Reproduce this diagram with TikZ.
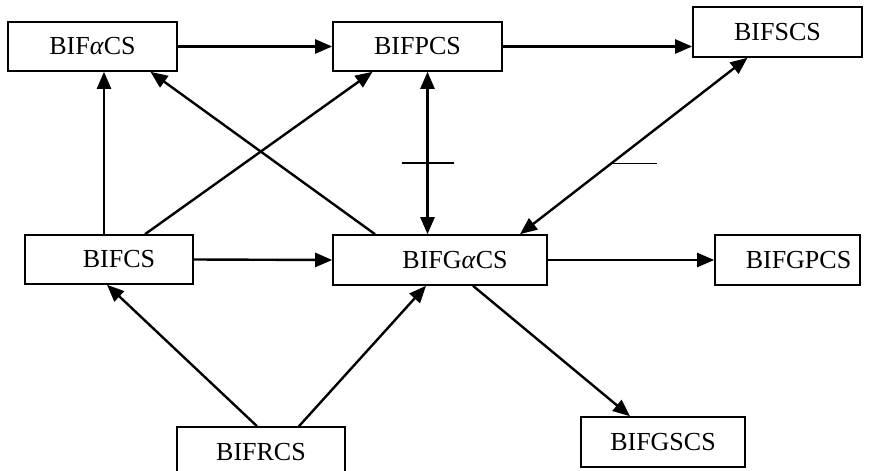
\documentclass[tikz,border=0pt]{standalone}
\usepackage{fontspec}
\setmainfont{Liberation Serif}
\usetikzlibrary{arrows.meta}

\tikzset{
  cbox/.style={draw, line width=1.6pt, inner sep=0pt, minimum height=49pt,
    font=\fontsize{26}{30}\selectfont},
  arr/.style={-{Triangle[length=17pt,width=14pt]}, line width=2.4pt},
  dbl/.style={{Triangle[length=17pt,width=14pt]}-{Triangle[length=17pt,width=14pt]}, line width=2.4pt},
  bar/.style={line width=1.6pt}
}

\begin{document}
\begin{tikzpicture}[x=1pt,y=-1pt]
\useasboundingbox (0,0) rectangle (873,471);
\clip (0,0) rectangle (873,471);

% top row
\node[cbox, minimum width=169pt] (fa) at (92.5,46.5) {BIF\textit{α}CS};
\node[cbox, minimum width=169pt] (fp) at (417.5,46.5) {BIFPCS};
\node[cbox, minimum width=169pt, minimum height=50pt] (fs) at (777.5,32) {BIFSCS};

% middle row
\node[cbox, minimum width=168pt] (fc) at (109,259.5) {\hspace*{20pt}BIFCS};
\node[cbox, minimum width=214pt, minimum height=50pt] (fga) at (440,260) {\hspace*{30pt}BIFG\textit{α}CS};
\node[cbox, minimum width=145pt, minimum height=50pt] (fgp) at (787.5,260) {\hspace*{22pt}BIFGPCS};

% bottom row
\node[cbox, minimum width=168pt, minimum height=50pt] (fr) at (261,452) {BIFRCS};
\node[cbox, minimum width=164pt, minimum height=50pt] (fgs) at (663,442) {BIFGSCS};

\coordinate (v1) at ([xshift=10pt]fp.south);
\coordinate (v2) at (v1 |- fga.north);
\coordinate (u1) at ([xshift=-5pt]fc.north);
\coordinate (u2) at (u1 |- fa.south);

\draw[arr] (fa.east) -- (fp.west);
\draw[arr] (fp.east) -- (fp.east -| fs.west);
\draw[arr] (u1) -- (u2);
\draw[arr] ([xshift=36pt]fc.north) -- ([xshift=-45pt]fp.south);
\draw[arr] ([xshift=-65pt]fga.north) -- ([xshift=58pt]fa.south);
\draw[dbl] (v1) -- coordinate[pos=0.56] (t1) (v2);
\draw[dbl] ([xshift=-30pt]fs.south) -- coordinate[pos=0.6] (t2) ([xshift=80pt]fga.north);
\draw[arr] (fc.east) -- (fga.west);
\draw[arr] (fga.east) -- (fgp.west);
\draw[arr] ([xshift=-4pt]fr.north) -- ([xshift=-2pt]fc.south);
\draw[arr] ([xshift=38pt]fr.north) -- ([xshift=-14pt]fga.south);
\draw[arr] ([xshift=33pt]fga.south) -- ([xshift=-33pt]fgs.north);

% bars across the two double arrows
\draw[bar] ([xshift=-26pt]t1) -- ([xshift=26pt]t1);
\draw[bar] ([xshift=2pt]t2) -- ([xshift=46pt]t2);
\end{tikzpicture}
\end{document}
